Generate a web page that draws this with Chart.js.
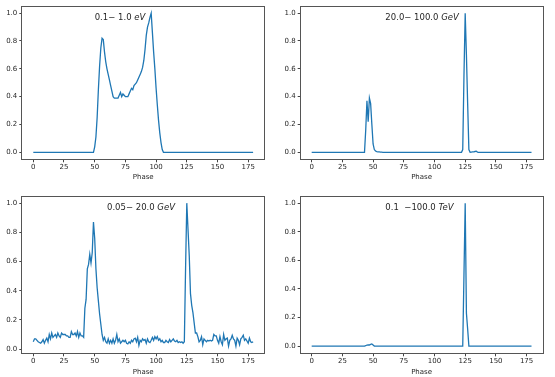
<!DOCTYPE html>
<html>
<head>
<meta charset="utf-8">
<script src="https://cdn.jsdelivr.net/npm/chart.js@4/dist/chart.umd.min.js"></script>
<style>
  html, body { margin: 0; padding: 0; background: #fff; }
  body { width: 555px; height: 377px; position: relative; overflow: hidden; }
  canvas { position: absolute; }
</style>
</head>
<body>
<canvas id="c1" width="277" height="188" style="left:0;top:0"></canvas>
<canvas id="c2" width="277" height="188" style="left:278px;top:0"></canvas>
<canvas id="c3" width="277" height="189" style="left:0;top:188px"></canvas>
<canvas id="c4" width="277" height="189" style="left:278px;top:188px"></canvas>
<script>
// ---- data ----
const phase = [
  0,1,2,3,4,5,6,7,8,9,10,11,12,13,14,15,16,17,18,19,
  20,21,22,23,24,25,26,27,28,29,30,31,32,33,34,35,36,37,38,39,
  40,41,42,43,44,45,46,47,48,49,50,51,52,53,54,55,56,57,58,59,
  60,61,62,63,64,65,66,67,68,69,70,71,72,73,74,75,76,77,78,79,
  80,81,82,83,84,85,86,87,88,89,90,91,92,93,94,95,96,97,98,99,
  100,101,102,103,104,105,106,107,108,109,110,111,112,113,114,115,116,117,118,119,
  120,121,122,123,124,125,126,127,128,129,130,131,132,133,134,135,136,137,138,139,
  140,141,142,143,144,145,146,147,148,149,150,151,152,153,154,155,156,157,158,159,
  160,161,162,163,164,165,166,167,168,169,170,171,172,173,174,175,176,177,178,179
];

// 0.1 - 1.0 eV
const fluxEV = [
  0,0,0,0,0,0,0,0,0,0, 0,0,0,0,0,0,0,0,0,0,
  0,0,0,0,0,0,0,0,0,0, 0,0,0,0,0,0,0,0,0,0,
  0,0,0,0,0,0,0,0,0,0,
  0.04,0.11,0.25,0.45,0.62,0.75,0.82,0.81,0.72,0.65,
  0.6,0.56,0.52,0.48,0.44,0.4,0.39,0.39,0.39,0.39,
  0.41,0.43,0.4,0.42,0.41,0.4,0.4,0.4,0.42,0.44,
  0.46,0.45,0.48,0.49,0.5,0.52,0.54,0.56,0.58,0.61,
  0.66,0.74,0.84,0.9,0.93,0.97,1.0,0.86,0.72,0.6,
  0.46,0.34,0.23,0.14,0.07,0.02,0,0,0,0,
  0,0,0,0,0,0,0,0,0,0, 0,0,0,0,0,0,0,0,0,0,
  0,0,0,0,0,0,0,0,0,0, 0,0,0,0,0,0,0,0,0,0,
  0,0,0,0,0,0,0,0,0,0, 0,0,0,0,0,0,0,0,0,0,
  0,0,0,0,0,0,0,0,0,0
];

// 20.0 - 100.0 GeV
const fluxGeVHigh = [
  0,0,0,0,0,0,0,0,0,0, 0,0,0,0,0,0,0,0,0,0,
  0,0,0,0,0,0,0,0,0,0, 0,0,0,0,0,0,0,0,0,0,
  0,0,0,0,0.16,0.37,0.22,0.39,0.35,0.2,
  0.06,0.02,0.01,0.005,0.004,0.003,0.002,0.001,0,0,
  0,0,0,0,0,0,0,0,0,0, 0,0,0,0,0,0,0,0,0,0,
  0,0,0,0,0,0,0,0,0,0, 0,0,0,0,0,0,0,0,0,0,
  0,0,0,0,0,0,0,0,0,0, 0,0,0,0,0,0,0,0,0,0,
  0,0,0,0.02,0.55,1.0,0.7,0.35,0.02,0,
  0.002,0.003,0.004,0.006,0.008,0.002,0,0,0,0,
  0,0,0,0,0,0,0,0,0,0, 0,0,0,0,0,0,0,0,0,0,
  0,0,0,0,0,0,0,0,0,0, 0,0,0,0,0,0,0,0,0,0
];

// 0.05 - 20.0 GeV
const fluxGeVLow = [
  0.05,0.07,0.07,0.06,0.05,0.045,0.04,0.05,0.065,0.04,
  0.06,0.075,0.05,0.1,0.07,0.11,0.08,0.09,0.1,0.08,
  0.11,0.09,0.08,0.11,0.1,0.1,0.1,0.09,0.09,0.08,
  0.08,0.12,0.1,0.1,0.11,0.09,0.12,0.08,0.11,0.09,
  0.09,0.08,0.28,0.34,0.55,0.58,0.65,0.59,0.66,0.87,
  0.76,0.55,0.42,0.33,0.24,0.17,0.1,0.06,0.08,0.05,
  0.04,0.07,0.04,0.06,0.04,0.07,0.04,0.06,0.1,0.05,
  0.07,0.04,0.05,0.06,0.05,0.06,0.04,0.035,0.05,0.04,
  0.06,0.05,0.07,0.075,0.05,0.08,0.025,0.06,0.05,0.07,
  0.06,0.065,0.04,0.07,0.05,0.045,0.06,0.08,0.06,0.085,
  0.07,0.085,0.06,0.07,0.05,0.06,0.045,0.045,0.06,0.05,
  0.045,0.065,0.05,0.06,0.07,0.055,0.05,0.06,0.045,0.05,
  0.045,0.05,0.04,0.05,0.55,1.0,0.82,0.64,0.38,0.3,
  0.25,0.18,0.11,0.11,0.085,0.05,0.06,0.085,0.03,0.07,
  0.06,0.05,0.06,0.055,0.06,0.055,0.06,0.1,0.09,0.09,
  0.06,0.04,0.085,0.05,0.03,0.1,0.06,0.07,0.075,0.02,
  0.06,0.07,0.095,0.07,0.06,0.02,0.075,0.06,0.03,0.07,
  0.08,0.095,0.06,0.07,0.055,0.04,0.075,0.05,0.045,0.05
];

// 0.1 - 100.0 TeV
const fluxTeV = [
  0,0,0,0,0,0,0,0,0,0, 0,0,0,0,0,0,0,0,0,0,
  0,0,0,0,0,0,0,0,0,0, 0,0,0,0,0,0,0,0,0,0,
  0,0,0,0,0.003,0.008,0.009,0.008,0.012,0.015,
  0.008,0.001,0,0,0,0,0,0,0,0,
  0,0,0,0,0,0,0,0,0,0, 0,0,0,0,0,0,0,0,0,0,
  0,0,0,0,0,0,0,0,0,0, 0,0,0,0,0,0,0,0,0,0,
  0,0,0,0,0,0,0,0,0,0, 0,0,0,0,0,0,0,0,0,0,
  0,0,0,0,0.5,1.0,0.23,0.12,0,0,
  0,0,0,0,0,0,0,0,0,0, 0,0,0,0,0,0,0,0,0,0,
  0,0,0,0,0,0,0,0,0,0, 0,0,0,0,0,0,0,0,0,0,
  0,0,0,0,0,0,0,0,0,0, 0,0,0,0,0,0,0,0,0,0
];

const xTicks = [0, 25, 50, 75, 100, 125, 150, 175];
const yTicks = [0.0, 0.2, 0.4, 0.6, 0.8, 1.0];
const xLabel = 'Phase';

const panelTitles = [
  [{t:'0.1\u2212 1.0 '}, {t:'eV', i:true}],
  [{t:'20.0\u2212 100.0 '}, {t:'GeV', i:true}],
  [{t:'0.05\u2212 20.0 '}, {t:'GeV', i:true}],
  [{t:'0.1  \u2212100.0 '}, {t:'TeV', i:true}]
];
const titleAnchorX = [50, 60, 60, 60];
const titleAnchorY = 0.95;

// ---- drawing ----
const FONT = '"DejaVu Sans", sans-serif';
const TXT = '#262626';

const framePlugin = {
  id: 'frame',
  afterDraw(chart) {
    const a = chart.chartArea, ctx = chart.ctx;
    ctx.save();
    ctx.strokeStyle = '#555';
    ctx.lineWidth = 1;
    ctx.strokeRect(Math.round(a.left) - 0.5, Math.round(a.top) + 0.5,
                   Math.round(a.right) - Math.round(a.left) + 1, Math.round(a.bottom) - Math.round(a.top));
    ctx.restore();
  }
};

const titlePlugin = {
  id: 'ptitle',
  afterDraw(chart, args, opts) {
    const ctx = chart.ctx;
    let px = chart.scales.x.getPixelForValue(opts.x);
    const py = chart.scales.y.getPixelForValue(opts.y);
    ctx.save();
    ctx.fillStyle = TXT;
    ctx.textAlign = 'left';
    ctx.textBaseline = 'alphabetic';
    for (const seg of opts.parts) {
      ctx.font = (seg.i ? 'italic ' : '') + '8.5px ' + FONT;
      ctx.fillText(seg.t, px, py);
      px += ctx.measureText(seg.t).width;
    }
    ctx.restore();
  }
};

function makeChart(id, values, idx, cfg) {
  const pts = phase.map((p, k) => ({x: p, y: values[k]}));
  return new Chart(document.getElementById(id), {
    type: 'line',
    data: { datasets: [{
      data: pts,
      borderColor: '#1f77b4',
      borderWidth: 1.3,
      pointRadius: 0,
      tension: 0,
      fill: false
    }]},
    options: {
      responsive: false,
      animation: false,
      devicePixelRatio: 1,
      layout: { padding: { left: 0, right: cfg.padRight, top: cfg.padTop, bottom: cfg.padBottom } },
      plugins: {
        legend: { display: false },
        tooltip: { enabled: false },
        ptitle: { x: titleAnchorX[idx], y: titleAnchorY, parts: panelTitles[idx] }
      },
      scales: {
        x: {
          type: 'linear',
          min: -8.95, max: 187.95,
          afterBuildTicks: s => { s.ticks = xTicks.map(v => ({value: v})); },
          afterFit: s => { s.height = cfg.xHeight; },
          ticks: { autoSkip: false, maxRotation: 0, padding: 1, color: TXT,
                   font: { family: FONT, size: 7 }, callback: v => String(v) },
          grid: { drawOnChartArea: false, drawTicks: true, tickLength: 3, color: '#444' },
          border: { display: false },
          title: { display: true, text: xLabel, color: TXT, padding: 0,
                   font: { family: FONT, size: 7 } }
        },
        y: {
          type: 'linear',
          min: cfg.yMin, max: cfg.yMax,
          afterBuildTicks: s => { s.ticks = yTicks.map(v => ({value: v})); },
          afterFit: s => { s.width = cfg.yWidth; },
          ticks: { autoSkip: false, padding: 2, color: TXT,
                   font: { family: FONT, size: 7 }, callback: v => Number(v).toFixed(1) },
          grid: { drawOnChartArea: false, drawTicks: true, tickLength: 3, color: '#444' },
          border: { display: false }
        }
      }
    },
    plugins: [framePlugin, titlePlugin]
  });
}

makeChart('c1', fluxEV, 0,      { yWidth: 22.3, padRight: 12.9, padTop: 2.5, xHeight: 21.6, padBottom: 7.1, yMin: -0.05, yMax: 1.05 });
makeChart('c2', fluxGeVHigh, 1, { yWidth: 22.7, padRight: 12.5, padTop: 2.5, xHeight: 21.6, padBottom: 7.1, yMin: -0.05, yMax: 1.05 });
makeChart('c3', fluxGeVLow, 2,  { yWidth: 22.3, padRight: 12.9, padTop: 8,   xHeight: 22.6, padBottom: 1.1, yMin: -0.029, yMax: 1.049 });
makeChart('c4', fluxTeV, 3,     { yWidth: 22.7, padRight: 12.5, padTop: 8,   xHeight: 22.6, padBottom: 1.1, yMin: -0.05, yMax: 1.05 });
</script>
</body>
</html>
